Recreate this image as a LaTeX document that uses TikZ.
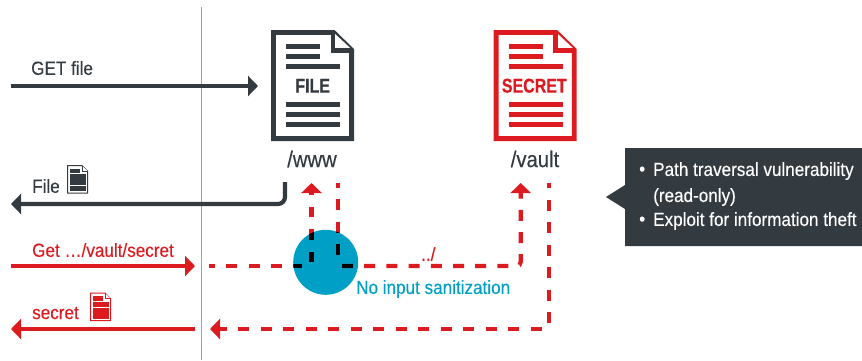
\documentclass[tikz,border=0pt]{standalone}
\usepackage{fontspec}
\setmainfont[FakeStretch=0.9,FakeBold=0.25]{Liberation Sans}
\newfontfamily\tagfont[FakeStretch=0.8,FakeBold=0.6]{Liberation Sans Bold}
\usetikzlibrary{arrows.meta}
\definecolor{ink}{HTML}{333A40}
\definecolor{alert}{HTML}{DC1B21}
\definecolor{teal}{HTML}{00A0C6}
\definecolor{rule}{HTML}{A0A0A0}
\tikzset{
  x=1pt,y=-1pt,
  lbl/.style={inner sep=0pt,font=\fontsize{19}{22}\selectfont,anchor=west},
  solidarrow/.style={line width=4.2pt,-{Triangle[length=10pt,width=20pt]}},
  dashflow/.style={draw=alert,line width=4.2pt,dash pattern=on 11pt off 11.3pt,rounded corners=4pt},
  dashtip/.style={dashflow,-{Triangle[length=10pt,width=20pt]}},
  sheet/.pic={
    \draw[line width=4.8pt,pic actions,miter limit=4,fill=white]
      (273.4,32.4)--(333.5,32.4)--(351.6,50)--(351.6,138.6)--(273.4,138.6)--cycle;
    \draw[line width=4.8pt,pic actions,fill=white] (333,32)--(333,50.6)--(353,50.6);
    \foreach \a/\b/\c in {286/320/46.5,286/320/56.5,286/340/66.5,286/340/104.5,286/340/114.5,286/340/124.5}
      \draw[line width=5pt,pic actions] (\a,\c)--(\b,\c);
  },
  mini/.pic={
    \draw[line width=1pt,pic actions,fill=white] (67.5,165.5)--(82,165.5)--(87.5,171)--(87.5,193)--(67.5,193)--cycle;
    \draw[line width=.8pt,pic actions,fill=white] (82,165.5)--(82,171)--(87.5,171);
    \fill[pic actions] (70.5,169)rectangle(79,172.5) (70.5,174.5)rectangle(85,179) (70.5,180.5)rectangle(85,184.5) (70.5,186)rectangle(85,190.5);
  }
}
\begin{document}
\begin{tikzpicture}
\useasboundingbox (0,0) rectangle (862,360);
\draw[rule,line width=1.2pt] (201.5,7)--(201.5,360);

% documents
\pic[draw=ink,fill=ink] {sheet};
\pic[draw=alert,fill=alert,xshift=222.7pt] {sheet};
\node[inner sep=0pt,text=ink,font=\tagfont\fontsize{20}{24}\selectfont] (filetag) at (312.7,85.7) {FILE};
\node[inner sep=0pt,text=alert,font=\tagfont\fontsize{20}{24}\selectfont] (secrettag) at (534.3,85.7) {SECRET};
\node[inner sep=0pt,text=ink,font=\fontsize{22.5}{26}\selectfont] (www) at (312,159) {/www};
\node[inner sep=0pt,text=ink,font=\fontsize{22.5}{26}\selectfont] (vault) at (535,159) {/vault};

% circle
\node[circle,fill=teal,minimum size=65pt,inner sep=0pt] (filter) at (325.7,262.3) {};

% anchors
\coordinate (getL) at (11,86); \coordinate (getR) at (258,86);
\coordinate (fileA) at (285,182); \coordinate (fileB) at (285,204); \coordinate (fileC) at (11,204);
\coordinate (reqA) at (11,266); \coordinate (reqB) at (195,266);
\coordinate (insA) at (209,266); \coordinate (insB) at (302,266); \coordinate (insC) at (311.5,262); \coordinate (insD) at (311.5,183);
\coordinate (outA) at (338,183); \coordinate (outB) at (338,256);
\coordinate (trA) at (342,266); \coordinate (trB) at (520.7,266); \coordinate (trC) at (520.7,183);
\coordinate (exA) at (549,183); \coordinate (exB) at (549,329); \coordinate (exC) at (210,329);
\coordinate (respA) at (195,329); \coordinate (respB) at (11,329);

% flows
\draw[ink,solidarrow] (getL)--(getR);
\draw[ink,solidarrow,rounded corners=7pt] (fileA)--(fileB)--(fileC);
\draw[alert,solidarrow] (reqA)--(reqB);
\draw[alert,solidarrow] (respA)--(respB);

\def\innerdashes#1{%
  \draw[dashflow,#1,dash phase=5pt] (insA)--(insB);
  \draw[dashflow,#1,dash pattern=on 10.5pt off 12pt] (insC)--(insD);
  \draw[dashflow,#1,dash phase=6pt] (outA)--(outB);
  \draw[dashflow,#1] (trA)--(trB);
}
\draw[dashflow,dash phase=5pt] (insA)--(insB);
\draw[dashflow,dash phase=6pt] (outA)--(outB);
\draw[dashtip,dash pattern=on 10.5pt off 12pt] (insC)--(insD);
\draw[dashtip,dash pattern=on 11pt off 11.2pt] (trA)--(trB)--(trC);
\draw[dashtip,dash pattern=on 11pt off 11.5pt,dash phase=6pt] (exA)--(exB)--(exC);
\begin{scope}
  \clip (filter.center) circle (32.5pt);
  \innerdashes{draw=black}
\end{scope}

% labels
\node[lbl,text=ink] (l1) at (31,68) {GET file};
\node[lbl,text=ink] (l2) at (32,186) {File};
\pic[draw=ink,fill=ink] {mini};
\node[lbl,text=alert] (l3) at (32,250) {Get …/vault/secret};
\node[lbl,text=alert] (l4) at (32,313) {secret};
\pic[draw=alert,fill=alert,xshift=23pt,yshift=-127.5pt] {mini};
\node[lbl,text=alert] (l5) at (421,254) {../};
\node[lbl,text=teal] (l6) at (356,289) {No input sanitization};

% callout
\fill[ink] (625,148)--(862,148)--(862,246)--(625,246)--(625,209)--(606,197)--(625,185)--cycle;
\node[lbl,text=white] (c0a) at (639,171) {•};
\node[lbl,text=white] (c1) at (653,171) {Path traversal vulnerability};
\node[lbl,text=white] (c2) at (653,197) {(read-only)};
\node[lbl,text=white] (c0b) at (639,221) {•};
\node[lbl,text=white] (c3) at (653,221) {Exploit for information theft};
\end{tikzpicture}
\end{document}
